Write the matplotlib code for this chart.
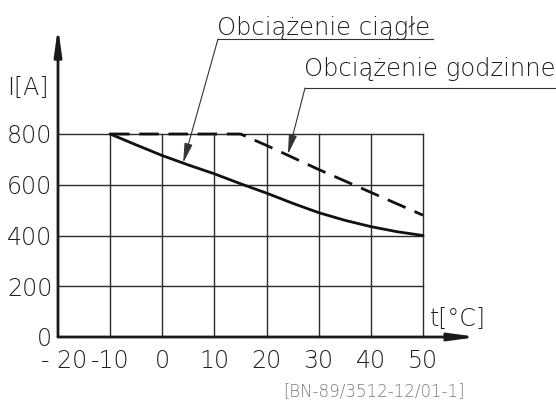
import matplotlib
matplotlib.use("Agg")
import matplotlib.pyplot as plt
from matplotlib.lines import Line2D
from matplotlib import font_manager as fm
from matplotlib.transforms import ScaledTranslation

# ---- data ----
t_ciagle = [-10, -5, 0, 5, 10, 15, 20, 25, 30, 35, 40, 45, 50]
i_ciagle = [800, 757, 715, 678, 643, 604, 567, 527, 490, 460, 435, 415, 400]
t_godz = [-10, 15, 20, 30, 40, 50]
i_godz = [800, 800, 755, 660, 570, 480]
x_ticks = [-20, -10, 0, 10, 20, 30, 40, 50]
x_labels = ["- 20", "-10", "0", "10", "20", "30", "40", "50"]
y_ticks = [0, 200, 400, 600, 800]
y_labels = ["0", "200", "400", "600", "800"]

W, H = 556, 401
TXT = "#1e1e1e"

light_files = [f.fname for f in fm.fontManager.ttflist
               if f.name == "DejaVu Sans" and f.weight in (200, "extra light", "ultralight")
               and f.style == "normal"]
if light_files:
    def fp(size):
        return fm.FontProperties(fname=light_files[0], size=size)
else:
    def fp(size):
        return fm.FontProperties(family="DejaVu Sans", weight=200, size=size)

fig = plt.figure(figsize=(W / 100, H / 100), dpi=100)
fig.patch.set_facecolor("white")

def fx(px):
    return px / W

def fy(py):
    return 1 - py / H

ax = fig.add_axes([fx(58), fy(337), fx(423) - fx(58), fy(134) - fy(337)])
ax.set_xlim(-20, 50)
ax.set_ylim(0, 800)
ax.set_facecolor("none")
for s in ["top", "right", "left", "bottom"]:
    ax.spines[s].set_visible(False)

# grid
grid_kw = dict(color="#2b2b2b", lw=1.0, clip_on=False, zorder=1)
for y in y_ticks[1:]:
    ax.plot([x_ticks[0], x_ticks[-1]], [y, y], **grid_kw)
for x in x_ticks[1:]:
    ax.plot([x, x], [y_ticks[0], y_ticks[-1]], **grid_kw)

# axes with arrows
arr = dict(arrowstyle="-|>,head_length=1.6,head_width=0.22", color="#1a1a1a",
           lw=2.0, shrinkA=0, shrinkB=0)
ax.annotate("", xy=(60.4, 0), xytext=(-20, 0), arrowprops=arr, annotation_clip=False)
ax.annotate("", xy=(-20, 1222), xytext=(-20, 0), arrowprops=arr, annotation_clip=False)

# curves
ax.plot(t_ciagle, i_ciagle, color="#111111", lw=2.0, solid_capstyle="round",
        clip_on=False, zorder=3)
ax.plot(t_godz, i_godz, color="#111111", lw=2.0, dashes=(7, 3.5),
        clip_on=False, zorder=3)

# ticks
ax.set_xticks(x_ticks)
ax.set_xticklabels(x_labels)
ax.set_yticks(y_ticks)
ax.set_yticklabels(y_labels)
ax.tick_params(length=0)
ax.tick_params(axis="x", pad=9)
ax.tick_params(axis="y", pad=4)
for lab in ax.get_xticklabels() + ax.get_yticklabels():
    lab.set_fontproperties(fp(17))
    lab.set_color(TXT)
first = ax.get_xticklabels()[0]
first.set_transform(first.get_transform() + ScaledTranslation(6 / 100, 0, fig.dpi_scale_trans))

# axis labels
fig.text(fx(7), fy(88), "I[A]", fontproperties=fp(17), ha="left", va="center", color=TXT)
fig.text(fx(430), fy(319), "t[°C]", fontproperties=fp(17), ha="left", va="center", color=TXT)

# annotations
lead = dict(color="#333333", lw=0.8)
fig.text(fx(217), fy(35), "Obciążenie ciągłe", fontproperties=fp(17.5), ha="left",
         va="baseline", color=TXT)
fig.add_artist(Line2D([fx(218), fx(433)], [fy(39), fy(39)], **lead))
ax.annotate("", xy=(4, 686), xycoords="data",
            xytext=(fx(218), fy(39)), textcoords="figure fraction",
            arrowprops=dict(arrowstyle="-|>,head_length=1.2,head_width=0.25",
                            color="#333333", lw=0.8, shrinkA=0, shrinkB=0),
            annotation_clip=False)

fig.text(fx(304), fy(76), "Obciążenie godzinne", fontproperties=fp(17.5), ha="left",
         va="baseline", color=TXT)
fig.add_artist(Line2D([fx(305), fx(556)], [fy(88), fy(88)], **lead))
ax.annotate("", xy=(24.1, 720), xycoords="data",
            xytext=(fx(305), fy(88)), textcoords="figure fraction",
            arrowprops=dict(arrowstyle="-|>,head_length=1.2,head_width=0.25",
                            color="#333333", lw=0.8, shrinkA=0, shrinkB=0),
            annotation_clip=False)

# reference code
fig.text(fx(374), fy(391), "[BN-89/3512-12/01-1]", fontproperties=fp(12), ha="center",
         va="center", color="#7a7a7a")

fig.savefig("out.png", dpi=100)
